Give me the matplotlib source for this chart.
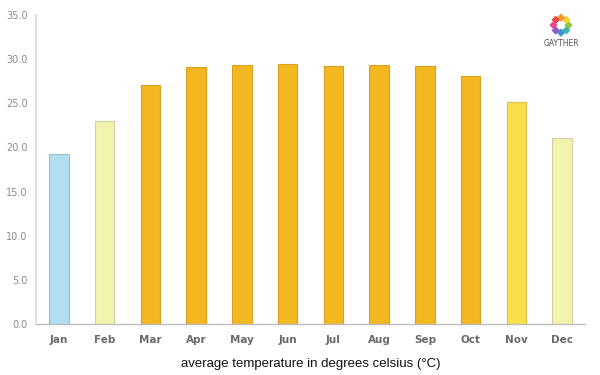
import matplotlib
matplotlib.use("Agg")
import matplotlib.pyplot as plt
import numpy as np

months = ["Jan", "Feb", "Mar", "Apr", "May", "Jun", "Jul", "Aug", "Sep", "Oct", "Nov", "Dec"]
temps = [19.3, 23.0, 27.1, 29.1, 29.3, 29.4, 29.2, 29.3, 29.2, 28.1, 25.1, 21.1]
colors = ["#b1dff0", "#f2f4ae", "#f3b720", "#f3b720", "#f3b720", "#f3b720",
          "#f3b720", "#f3b720", "#f3b720", "#f3b720", "#f9e04b", "#f2f4ae"]
edges = ["#9bbccc", "#cfcfa8", "#d9a021", "#d9a021", "#d9a021", "#d9a021",
         "#d9a021", "#d9a021", "#d9a021", "#d9a021", "#d6c24a", "#cfcfa8"]
yticks = [0, 5, 10, 15, 20, 25, 30, 35]

fig = plt.figure(figsize=(6, 3.75), dpi=100)
ax = fig.add_axes([0.06, 0.136, 0.915, 0.824])

x = np.arange(len(months))
ax.bar(x, temps, width=0.43, color=colors, edgecolor=edges, linewidth=0.8, zorder=2)

ax.set_xlim(-0.5, len(months) - 0.5)
ax.set_ylim(0, 35)
ax.set_yticks(yticks)
ax.set_yticklabels([f"{v:.1f}" for v in yticks], fontsize=7, color="#8a8a8a")
ax.set_xticks(x)
ax.set_xticklabels(months, fontsize=7.5, color="#6a6a6a", fontweight="semibold")
ax.tick_params(axis="both", length=0)
ax.tick_params(axis="x", pad=8)
ax.tick_params(axis="y", pad=6)

for s in ["top", "right"]:
    ax.spines[s].set_visible(False)
ax.spines["left"].set_color("#d9d9d9")
ax.spines["left"].set_linewidth(1.2)
ax.spines["bottom"].set_color("#bdbdbd")
ax.spines["bottom"].set_linewidth(1.0)

ax.set_xlabel("average temperature in degrees celsius (°C)", fontsize=9.5,
              family="Liberation Sans", color="#111111", labelpad=9)

# logo
logo = fig.add_axes([0.91, 0.893, 0.05, 0.08])
ang = np.linspace(0, 2 * np.pi, 8, endpoint=False)
logo_cols = ["#8cc63f", "#f7d23a", "#f39a2a", "#e8463c", "#e84a8a", "#8e5bc7", "#3a8fd6", "#3fb5a8"]
logo.scatter(np.cos(ang), np.sin(ang), s=11, c=logo_cols, marker="D")
logo.set_xlim(-2.0, 2.0)
logo.set_ylim(-2.0, 2.0)
logo.axis("off")
fig.text(0.935, 0.897, "GAYTHER", fontsize=5.5, color="#555555", ha="center", va="top")

fig.savefig("out.png", dpi=100)
